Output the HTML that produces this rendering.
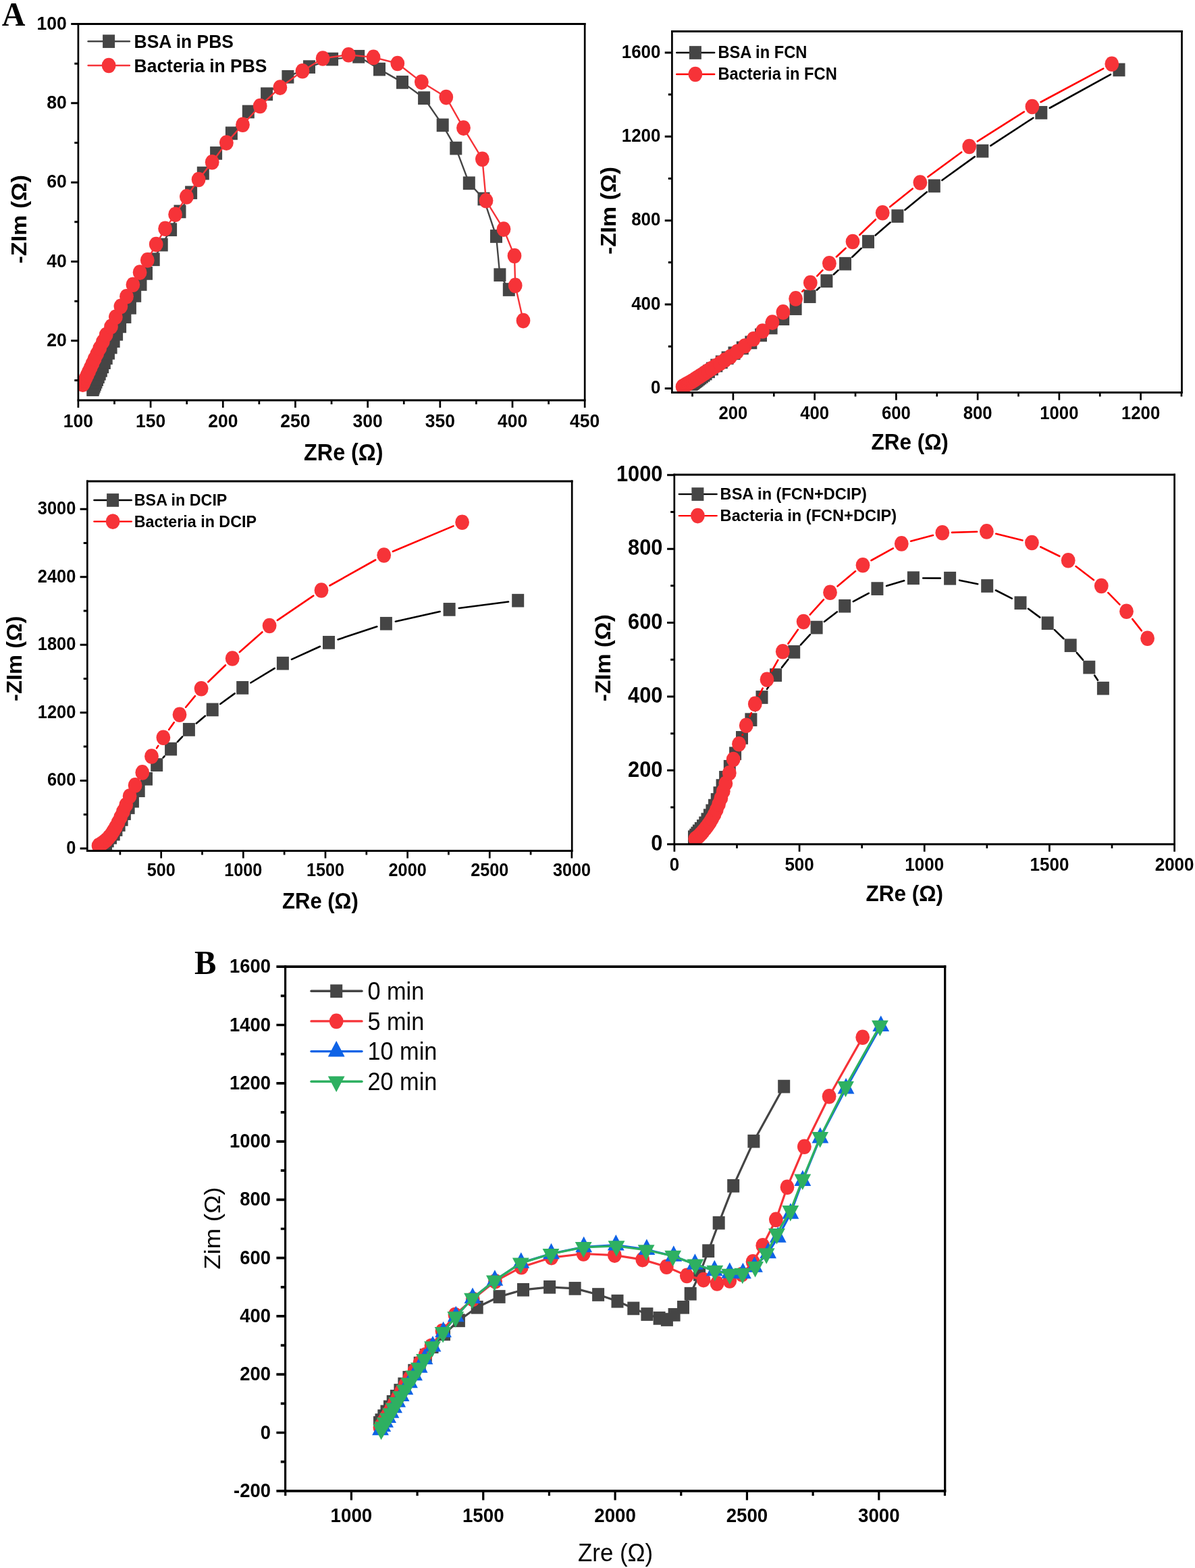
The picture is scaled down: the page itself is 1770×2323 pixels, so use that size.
<!DOCTYPE html>
<html lang="en">
<head>
<meta charset="utf-8">
<title>Nyquist plots</title>
<style>
html,body{margin:0;padding:0;background:#fff;}
body{width:1770px;height:2323px;overflow:hidden;}
svg{display:block;}
text{fill:#000;}
</style>
</head>
<body>
<svg width="1770" height="2323" viewBox="0 0 1770 2323" role="img" aria-label="Nyquist plots">
<rect x="0" y="0" width="1770" height="2323" fill="#fff"/>
<g>
<text transform="translate(115.9 633.2) scale(1 1.07)" font-family='"Liberation Sans", sans-serif' font-size="26.5" font-weight="bold" text-anchor="middle">100</text>
<text transform="translate(223.09 633.2) scale(1 1.07)" font-family='"Liberation Sans", sans-serif' font-size="26.5" font-weight="bold" text-anchor="middle">150</text>
<text transform="translate(330.27 633.2) scale(1 1.07)" font-family='"Liberation Sans", sans-serif' font-size="26.5" font-weight="bold" text-anchor="middle">200</text>
<text transform="translate(437.46 633.2) scale(1 1.07)" font-family='"Liberation Sans", sans-serif' font-size="26.5" font-weight="bold" text-anchor="middle">250</text>
<text transform="translate(544.64 633.2) scale(1 1.07)" font-family='"Liberation Sans", sans-serif' font-size="26.5" font-weight="bold" text-anchor="middle">300</text>
<text transform="translate(651.83 633.2) scale(1 1.07)" font-family='"Liberation Sans", sans-serif' font-size="26.5" font-weight="bold" text-anchor="middle">350</text>
<text transform="translate(759.01 633.2) scale(1 1.07)" font-family='"Liberation Sans", sans-serif' font-size="26.5" font-weight="bold" text-anchor="middle">400</text>
<text transform="translate(866.2 633.2) scale(1 1.07)" font-family='"Liberation Sans", sans-serif' font-size="26.5" font-weight="bold" text-anchor="middle">450</text>
<text transform="translate(98.8 513.1) scale(1 1.07)" font-family='"Liberation Sans", sans-serif' font-size="26.6" font-weight="bold" text-anchor="end">20</text>
<text transform="translate(98.8 395.78) scale(1 1.07)" font-family='"Liberation Sans", sans-serif' font-size="26.6" font-weight="bold" text-anchor="end">40</text>
<text transform="translate(98.8 278.45) scale(1 1.07)" font-family='"Liberation Sans", sans-serif' font-size="26.6" font-weight="bold" text-anchor="end">60</text>
<text transform="translate(98.8 161.12) scale(1 1.07)" font-family='"Liberation Sans", sans-serif' font-size="26.6" font-weight="bold" text-anchor="end">80</text>
<text transform="translate(98.8 43.8) scale(1 1.07)" font-family='"Liberation Sans", sans-serif' font-size="26.6" font-weight="bold" text-anchor="end">100</text>
<clipPath id="clip1"><rect x="115.9" y="35.5" width="750.3" height="557.4"/></clipPath>
<g clip-path="url(#clip1)">
<polyline points="137.4,577.2 137.57,576.82 138.6,574.46 139.75,571.85 141.02,568.93 142.44,565.7 144.01,562.11 145.76,558.12 147.7,553.68 149.83,548.74 152.18,543.24 154.8,537.14 157.71,530.35 160.95,522.82 164.58,514.46 168.62,505.18 173.11,494.86 178.1,483.4 185.4,469.2 192.9,455.8 200.2,437.9 208.5,421 217,404.9 227.7,384.3 239.7,362.6 253.1,340.2 266.5,313.4 283.1,285.3 300.8,256.6 320.1,226.9 342.9,197.4 367.8,165.5 395.1,139.3 426.4,113.8 458,99.1 492.1,87.6 531.2,83.8 562,102.6 596,121.9 628.1,145.2 655.7,185.4 675.3,219.6 694.8,271.3 716.5,294.6 735,350 740.4,407.2 753.8,429" fill="none" stroke="#454545" stroke-width="2.4" stroke-linejoin="round" stroke-linecap="round"/>
<g><rect x="128.4" y="567.35" width="18" height="19.7" fill="#454545"/><rect x="128.57" y="566.97" width="18" height="19.7" fill="#454545"/><rect x="129.6" y="564.61" width="18" height="19.7" fill="#454545"/><rect x="130.75" y="562" width="18" height="19.7" fill="#454545"/><rect x="132.02" y="559.08" width="18" height="19.7" fill="#454545"/><rect x="133.44" y="555.85" width="18" height="19.7" fill="#454545"/><rect x="135.01" y="552.26" width="18" height="19.7" fill="#454545"/><rect x="136.76" y="548.27" width="18" height="19.7" fill="#454545"/><rect x="138.7" y="543.83" width="18" height="19.7" fill="#454545"/><rect x="140.83" y="538.89" width="18" height="19.7" fill="#454545"/><rect x="143.18" y="533.39" width="18" height="19.7" fill="#454545"/><rect x="145.8" y="527.29" width="18" height="19.7" fill="#454545"/><rect x="148.71" y="520.5" width="18" height="19.7" fill="#454545"/><rect x="151.95" y="512.97" width="18" height="19.7" fill="#454545"/><rect x="155.58" y="504.61" width="18" height="19.7" fill="#454545"/><rect x="159.62" y="495.33" width="18" height="19.7" fill="#454545"/><rect x="164.11" y="485.01" width="18" height="19.7" fill="#454545"/><rect x="169.1" y="473.55" width="18" height="19.7" fill="#454545"/><rect x="176.4" y="459.35" width="18" height="19.7" fill="#454545"/><rect x="183.9" y="445.95" width="18" height="19.7" fill="#454545"/><rect x="191.2" y="428.05" width="18" height="19.7" fill="#454545"/><rect x="199.5" y="411.15" width="18" height="19.7" fill="#454545"/><rect x="208" y="395.05" width="18" height="19.7" fill="#454545"/><rect x="218.7" y="374.45" width="18" height="19.7" fill="#454545"/><rect x="230.7" y="352.75" width="18" height="19.7" fill="#454545"/><rect x="244.1" y="330.35" width="18" height="19.7" fill="#454545"/><rect x="257.5" y="303.55" width="18" height="19.7" fill="#454545"/><rect x="274.1" y="275.45" width="18" height="19.7" fill="#454545"/><rect x="291.8" y="246.75" width="18" height="19.7" fill="#454545"/><rect x="311.1" y="217.05" width="18" height="19.7" fill="#454545"/><rect x="333.9" y="187.55" width="18" height="19.7" fill="#454545"/><rect x="358.8" y="155.65" width="18" height="19.7" fill="#454545"/><rect x="386.1" y="129.45" width="18" height="19.7" fill="#454545"/><rect x="417.4" y="103.95" width="18" height="19.7" fill="#454545"/><rect x="449" y="89.25" width="18" height="19.7" fill="#454545"/><rect x="483.1" y="77.75" width="18" height="19.7" fill="#454545"/><rect x="522.2" y="73.95" width="18" height="19.7" fill="#454545"/><rect x="553" y="92.75" width="18" height="19.7" fill="#454545"/><rect x="587" y="112.05" width="18" height="19.7" fill="#454545"/><rect x="619.1" y="135.35" width="18" height="19.7" fill="#454545"/><rect x="646.7" y="175.55" width="18" height="19.7" fill="#454545"/><rect x="666.3" y="209.75" width="18" height="19.7" fill="#454545"/><rect x="685.8" y="261.45" width="18" height="19.7" fill="#454545"/><rect x="707.5" y="284.75" width="18" height="19.7" fill="#454545"/><rect x="726" y="340.15" width="18" height="19.7" fill="#454545"/><rect x="731.4" y="397.35" width="18" height="19.7" fill="#454545"/><rect x="744.8" y="419.15" width="18" height="19.7" fill="#454545"/></g>
<polyline points="122.7,569.6 123.7,567.44 125.38,563.81 127.26,559.76 129.33,555.27 131.63,550.27 134.17,544.71 137,538.54 140.15,531.68 143.76,524.12 147.78,515.72 152.24,506.38 157.2,496 164.5,483.9 171.4,469.7 178.9,453.9 187.5,439.2 196.9,421.8 207.1,403.6 218.3,385.4 231.2,362.1 244.6,338.8 259.6,317.7 276.4,291.4 294.1,266 314.2,240.3 335.4,211.6 359.5,184.8 385.2,157 414.9,129.6 448,105.3 478.1,86.5 516.2,81.2 553.1,84.9 588.8,94 624.4,121.6 660.8,144.1 686.5,189.6 714.4,235.7 720,297.3 746,339.6 762,379 763.2,422.9 775,475.1" fill="none" stroke="#f63338" stroke-width="2.4" stroke-linejoin="round" stroke-linecap="round"/>
<g><ellipse cx="122.7" cy="569.6" rx="10.4" ry="11.3" fill="#f63338"/><ellipse cx="123.7" cy="567.44" rx="10.4" ry="11.3" fill="#f63338"/><ellipse cx="125.38" cy="563.81" rx="10.4" ry="11.3" fill="#f63338"/><ellipse cx="127.26" cy="559.76" rx="10.4" ry="11.3" fill="#f63338"/><ellipse cx="129.33" cy="555.27" rx="10.4" ry="11.3" fill="#f63338"/><ellipse cx="131.63" cy="550.27" rx="10.4" ry="11.3" fill="#f63338"/><ellipse cx="134.17" cy="544.71" rx="10.4" ry="11.3" fill="#f63338"/><ellipse cx="137" cy="538.54" rx="10.4" ry="11.3" fill="#f63338"/><ellipse cx="140.15" cy="531.68" rx="10.4" ry="11.3" fill="#f63338"/><ellipse cx="143.76" cy="524.12" rx="10.4" ry="11.3" fill="#f63338"/><ellipse cx="147.78" cy="515.72" rx="10.4" ry="11.3" fill="#f63338"/><ellipse cx="152.24" cy="506.38" rx="10.4" ry="11.3" fill="#f63338"/><ellipse cx="157.2" cy="496" rx="10.4" ry="11.3" fill="#f63338"/><ellipse cx="164.5" cy="483.9" rx="10.4" ry="11.3" fill="#f63338"/><ellipse cx="171.4" cy="469.7" rx="10.4" ry="11.3" fill="#f63338"/><ellipse cx="178.9" cy="453.9" rx="10.4" ry="11.3" fill="#f63338"/><ellipse cx="187.5" cy="439.2" rx="10.4" ry="11.3" fill="#f63338"/><ellipse cx="196.9" cy="421.8" rx="10.4" ry="11.3" fill="#f63338"/><ellipse cx="207.1" cy="403.6" rx="10.4" ry="11.3" fill="#f63338"/><ellipse cx="218.3" cy="385.4" rx="10.4" ry="11.3" fill="#f63338"/><ellipse cx="231.2" cy="362.1" rx="10.4" ry="11.3" fill="#f63338"/><ellipse cx="244.6" cy="338.8" rx="10.4" ry="11.3" fill="#f63338"/><ellipse cx="259.6" cy="317.7" rx="10.4" ry="11.3" fill="#f63338"/><ellipse cx="276.4" cy="291.4" rx="10.4" ry="11.3" fill="#f63338"/><ellipse cx="294.1" cy="266" rx="10.4" ry="11.3" fill="#f63338"/><ellipse cx="314.2" cy="240.3" rx="10.4" ry="11.3" fill="#f63338"/><ellipse cx="335.4" cy="211.6" rx="10.4" ry="11.3" fill="#f63338"/><ellipse cx="359.5" cy="184.8" rx="10.4" ry="11.3" fill="#f63338"/><ellipse cx="385.2" cy="157" rx="10.4" ry="11.3" fill="#f63338"/><ellipse cx="414.9" cy="129.6" rx="10.4" ry="11.3" fill="#f63338"/><ellipse cx="448" cy="105.3" rx="10.4" ry="11.3" fill="#f63338"/><ellipse cx="478.1" cy="86.5" rx="10.4" ry="11.3" fill="#f63338"/><ellipse cx="516.2" cy="81.2" rx="10.4" ry="11.3" fill="#f63338"/><ellipse cx="553.1" cy="84.9" rx="10.4" ry="11.3" fill="#f63338"/><ellipse cx="588.8" cy="94" rx="10.4" ry="11.3" fill="#f63338"/><ellipse cx="624.4" cy="121.6" rx="10.4" ry="11.3" fill="#f63338"/><ellipse cx="660.8" cy="144.1" rx="10.4" ry="11.3" fill="#f63338"/><ellipse cx="686.5" cy="189.6" rx="10.4" ry="11.3" fill="#f63338"/><ellipse cx="714.4" cy="235.7" rx="10.4" ry="11.3" fill="#f63338"/><ellipse cx="720" cy="297.3" rx="10.4" ry="11.3" fill="#f63338"/><ellipse cx="746" cy="339.6" rx="10.4" ry="11.3" fill="#f63338"/><ellipse cx="762" cy="379" rx="10.4" ry="11.3" fill="#f63338"/><ellipse cx="763.2" cy="422.9" rx="10.4" ry="11.3" fill="#f63338"/><ellipse cx="775" cy="475.1" rx="10.4" ry="11.3" fill="#f63338"/></g>
</g>
<path d="M114.55 35.5 H867.55 M114.55 592.9 H867.55 M115.9 504.8 h-10.7 M115.9 387.48 h-10.7 M115.9 270.15 h-10.7 M115.9 152.82 h-10.7 M115.9 35.5 h-10.7 M115.9 563.46 h-5.6 M115.9 446.14 h-5.6 M115.9 328.81 h-5.6 M115.9 211.49 h-5.6 M115.9 94.16 h-5.6" stroke="#000" stroke-width="3" fill="none"/>
<path d="M115.9 34 V594.4 M866.2 34 V594.4 M115.9 592.9 v11.1 M223.09 592.9 v11.1 M330.27 592.9 v11.1 M437.46 592.9 v11.1 M544.64 592.9 v11.1 M651.83 592.9 v11.1 M759.01 592.9 v11.1 M866.2 592.9 v11.1 M169.49 592.9 v6 M276.68 592.9 v6 M383.86 592.9 v6 M491.05 592.9 v6 M598.24 592.9 v6 M705.42 592.9 v6 M812.61 592.9 v6" stroke="#000" stroke-width="2.7" fill="none"/>
<line x1="130.6" y1="61.2" x2="191.9" y2="61.2" stroke="#454545" stroke-width="2.4" stroke-linecap="round"/>
<rect x="152.1" y="51.35" width="18" height="19.7" fill="#454545"/>
<text transform="translate(198.6 71) scale(1 1.07)" font-family='"Liberation Sans", sans-serif' font-size="26.45" font-weight="bold" text-anchor="start">BSA in PBS</text>
<line x1="130.6" y1="97" x2="191.9" y2="97" stroke="#f63338" stroke-width="2.4" stroke-linecap="round"/>
<ellipse cx="161.1" cy="97" rx="10.4" ry="11.3" fill="#f63338"/>
<text transform="translate(198.6 106.8) scale(1 1.07)" font-family='"Liberation Sans", sans-serif' font-size="26.45" font-weight="bold" text-anchor="start">Bacteria in PBS</text>
<text transform="translate(508.8 681.7) scale(1 1.07)" font-family='"Liberation Sans", sans-serif' font-size="32.3" font-weight="bold" text-anchor="middle">ZRe (Ω)</text>
<text transform="translate(39.25 324.8) scale(1 1.07) rotate(-90)" font-family='"Liberation Sans", sans-serif' font-size="31.9" font-weight="bold" text-anchor="middle">-ZIm (Ω)</text>
</g>
<g>
<text transform="translate(1085.9 620.8) scale(1 1.07)" font-family='"Liberation Sans", sans-serif' font-size="25.7" font-weight="bold" text-anchor="middle">200</text>
<text transform="translate(1206.64 620.8) scale(1 1.07)" font-family='"Liberation Sans", sans-serif' font-size="25.7" font-weight="bold" text-anchor="middle">400</text>
<text transform="translate(1327.38 620.8) scale(1 1.07)" font-family='"Liberation Sans", sans-serif' font-size="25.7" font-weight="bold" text-anchor="middle">600</text>
<text transform="translate(1448.12 620.8) scale(1 1.07)" font-family='"Liberation Sans", sans-serif' font-size="25.7" font-weight="bold" text-anchor="middle">800</text>
<text transform="translate(1568.86 620.8) scale(1 1.07)" font-family='"Liberation Sans", sans-serif' font-size="25.7" font-weight="bold" text-anchor="middle">1000</text>
<text transform="translate(1689.6 620.8) scale(1 1.07)" font-family='"Liberation Sans", sans-serif' font-size="25.7" font-weight="bold" text-anchor="middle">1200</text>
<text transform="translate(978.4 583) scale(1 1.07)" font-family='"Liberation Sans", sans-serif' font-size="25.9" font-weight="bold" text-anchor="end">0</text>
<text transform="translate(978.4 458.62) scale(1 1.07)" font-family='"Liberation Sans", sans-serif' font-size="25.9" font-weight="bold" text-anchor="end">400</text>
<text transform="translate(978.4 334.25) scale(1 1.07)" font-family='"Liberation Sans", sans-serif' font-size="25.9" font-weight="bold" text-anchor="end">800</text>
<text transform="translate(978.4 209.87) scale(1 1.07)" font-family='"Liberation Sans", sans-serif' font-size="25.9" font-weight="bold" text-anchor="end">1200</text>
<text transform="translate(978.4 85.5) scale(1 1.07)" font-family='"Liberation Sans", sans-serif' font-size="25.9" font-weight="bold" text-anchor="end">1600</text>
<clipPath id="clip2"><rect x="995.4" y="46.5" width="755.1" height="535.1"/></clipPath>
<g clip-path="url(#clip2)">
<path d="M1210 429.5 L1213.9 425.9 M1234.9 406.5 L1241.5 400.4 M1262.31 380.79 L1275.69 367.91 M1296.77 348.59 L1318.63 329.51 M1340.45 311.02 L1372.75 284.48 M1395.39 267.02 L1443.71 232.08 M1467.27 215.88 L1530.33 174.72 M1554.82 160 L1644.98 110.3" fill="none" stroke="#000" stroke-width="2.6" stroke-linecap="round"/>
<g><rect x="1015.5" y="559.15" width="18" height="19.7" fill="#454545"/><rect x="1016.64" y="558.33" width="18" height="19.7" fill="#454545"/><rect x="1017.85" y="557.45" width="18" height="19.7" fill="#454545"/><rect x="1019.18" y="556.49" width="18" height="19.7" fill="#454545"/><rect x="1020.65" y="555.43" width="18" height="19.7" fill="#454545"/><rect x="1022.29" y="554.24" width="18" height="19.7" fill="#454545"/><rect x="1024.09" y="552.9" width="18" height="19.7" fill="#454545"/><rect x="1026.09" y="551.42" width="18" height="19.7" fill="#454545"/><rect x="1028.32" y="549.77" width="18" height="19.7" fill="#454545"/><rect x="1030.8" y="547.94" width="18" height="19.7" fill="#454545"/><rect x="1033.55" y="545.91" width="18" height="19.7" fill="#454545"/><rect x="1036.6" y="543.65" width="18" height="19.7" fill="#454545"/><rect x="1040.9" y="540.45" width="18" height="19.7" fill="#454545"/><rect x="1045.9" y="536.55" width="18" height="19.7" fill="#454545"/><rect x="1052.3" y="531.65" width="18" height="19.7" fill="#454545"/><rect x="1059.8" y="526.55" width="18" height="19.7" fill="#454545"/><rect x="1068.6" y="520.45" width="18" height="19.7" fill="#454545"/><rect x="1078.5" y="513.45" width="18" height="19.7" fill="#454545"/><rect x="1090.8" y="505.65" width="18" height="19.7" fill="#454545"/><rect x="1103.3" y="497.55" width="18" height="19.7" fill="#454545"/><rect x="1118" y="486.55" width="18" height="19.7" fill="#454545"/><rect x="1133.6" y="475.65" width="18" height="19.7" fill="#454545"/><rect x="1151.2" y="462.35" width="18" height="19.7" fill="#454545"/><rect x="1169.6" y="447.25" width="18" height="19.7" fill="#454545"/><rect x="1190.5" y="429.35" width="18" height="19.7" fill="#454545"/><rect x="1215.4" y="406.35" width="18" height="19.7" fill="#454545"/><rect x="1243" y="380.85" width="18" height="19.7" fill="#454545"/><rect x="1277" y="348.15" width="18" height="19.7" fill="#454545"/><rect x="1320.4" y="310.25" width="18" height="19.7" fill="#454545"/><rect x="1374.8" y="265.55" width="18" height="19.7" fill="#454545"/><rect x="1446.3" y="213.85" width="18" height="19.7" fill="#454545"/><rect x="1533.3" y="157.05" width="18" height="19.7" fill="#454545"/><rect x="1648.5" y="93.55" width="18" height="19.7" fill="#454545"/></g>
<path d="M1188.35 431.94 L1190.55 429.56 M1210.27 408.85 L1218.43 400.45 M1238.87 380.46 L1252.53 367.74 M1273.28 348.06 L1296.92 325.24 M1318.34 306.34 L1351.76 279.46 M1374.42 262.03 L1424.18 225.47 M1447.78 209.35 L1516.82 165.65 M1541.5 151.24 L1634.2 101.56" fill="none" stroke="#f00" stroke-width="2.6" stroke-linecap="round"/>
<g><ellipse cx="1011" cy="573" rx="10.4" ry="11.3" fill="#f63338"/><ellipse cx="1011.68" cy="572.6" rx="10.4" ry="11.3" fill="#f63338"/><ellipse cx="1013.24" cy="571.7" rx="10.4" ry="11.3" fill="#f63338"/><ellipse cx="1014.79" cy="570.79" rx="10.4" ry="11.3" fill="#f63338"/><ellipse cx="1016.35" cy="569.88" rx="10.4" ry="11.3" fill="#f63338"/><ellipse cx="1018.04" cy="568.9" rx="10.4" ry="11.3" fill="#f63338"/><ellipse cx="1019.91" cy="567.8" rx="10.4" ry="11.3" fill="#f63338"/><ellipse cx="1022" cy="566.59" rx="10.4" ry="11.3" fill="#f63338"/><ellipse cx="1024.32" cy="565.24" rx="10.4" ry="11.3" fill="#f63338"/><ellipse cx="1026.87" cy="563.7" rx="10.4" ry="11.3" fill="#f63338"/><ellipse cx="1029.65" cy="561.89" rx="10.4" ry="11.3" fill="#f63338"/><ellipse cx="1032.73" cy="559.88" rx="10.4" ry="11.3" fill="#f63338"/><ellipse cx="1036.16" cy="557.65" rx="10.4" ry="11.3" fill="#f63338"/><ellipse cx="1039.97" cy="555.18" rx="10.4" ry="11.3" fill="#f63338"/><ellipse cx="1044.2" cy="552.42" rx="10.4" ry="11.3" fill="#f63338"/><ellipse cx="1048.9" cy="549.36" rx="10.4" ry="11.3" fill="#f63338"/><ellipse cx="1054.13" cy="545.97" rx="10.4" ry="11.3" fill="#f63338"/><ellipse cx="1059.94" cy="542.2" rx="10.4" ry="11.3" fill="#f63338"/><ellipse cx="1066.47" cy="538.14" rx="10.4" ry="11.3" fill="#f63338"/><ellipse cx="1073.73" cy="533.62" rx="10.4" ry="11.3" fill="#f63338"/><ellipse cx="1081.8" cy="528.6" rx="10.4" ry="11.3" fill="#f63338"/><ellipse cx="1092" cy="521.1" rx="10.4" ry="11.3" fill="#f63338"/><ellipse cx="1103.3" cy="512.5" rx="10.4" ry="11.3" fill="#f63338"/><ellipse cx="1116.1" cy="502.3" rx="10.4" ry="11.3" fill="#f63338"/><ellipse cx="1129.5" cy="490.5" rx="10.4" ry="11.3" fill="#f63338"/><ellipse cx="1144" cy="477.6" rx="10.4" ry="11.3" fill="#f63338"/><ellipse cx="1159.9" cy="462.4" rx="10.4" ry="11.3" fill="#f63338"/><ellipse cx="1178.6" cy="442.4" rx="10.4" ry="11.3" fill="#f63338"/><ellipse cx="1200.3" cy="419.1" rx="10.4" ry="11.3" fill="#f63338"/><ellipse cx="1228.4" cy="390.2" rx="10.4" ry="11.3" fill="#f63338"/><ellipse cx="1263" cy="358" rx="10.4" ry="11.3" fill="#f63338"/><ellipse cx="1307.2" cy="315.3" rx="10.4" ry="11.3" fill="#f63338"/><ellipse cx="1362.9" cy="270.5" rx="10.4" ry="11.3" fill="#f63338"/><ellipse cx="1435.7" cy="217" rx="10.4" ry="11.3" fill="#f63338"/><ellipse cx="1528.9" cy="158" rx="10.4" ry="11.3" fill="#f63338"/><ellipse cx="1646.8" cy="94.8" rx="10.4" ry="11.3" fill="#f63338"/></g>
</g>
<path d="M994.05 46.5 H1751.85 M994.05 581.6 H1751.85 M995.4 575.4 h-10.7 M995.4 451.02 h-10.7 M995.4 326.65 h-10.7 M995.4 202.27 h-10.7 M995.4 77.9 h-10.7 M995.4 513.21 h-5.6 M995.4 388.84 h-5.6 M995.4 264.46 h-5.6 M995.4 140.09 h-5.6" stroke="#000" stroke-width="3" fill="none"/>
<path d="M995.4 45 V583.1 M1750.5 45 V583.1 M1085.9 581.6 v11.1 M1206.64 581.6 v11.1 M1327.38 581.6 v11.1 M1448.12 581.6 v11.1 M1568.86 581.6 v11.1 M1689.6 581.6 v11.1 M1025.53 581.6 v6 M1146.27 581.6 v6 M1267.01 581.6 v6 M1387.75 581.6 v6 M1508.49 581.6 v6 M1629.23 581.6 v6 M1749.97 581.6 v6" stroke="#000" stroke-width="2.7" fill="none"/>
<line x1="1002.2" y1="78" x2="1058.2" y2="78" stroke="#000" stroke-width="2.4" stroke-linecap="round"/>
<rect x="1020.9" y="68.15" width="18" height="19.7" fill="#454545"/>
<text transform="translate(1063.4 86.2) scale(1 1.05)" font-family='"Liberation Sans", sans-serif' font-size="23.7" font-weight="bold" text-anchor="start">BSA in FCN</text>
<line x1="1002.2" y1="110" x2="1058.2" y2="110" stroke="#f00" stroke-width="2.4" stroke-linecap="round"/>
<ellipse cx="1029.9" cy="110" rx="10.4" ry="11.3" fill="#f63338"/>
<text transform="translate(1063.4 118.2) scale(1 1.05)" font-family='"Liberation Sans", sans-serif' font-size="23.7" font-weight="bold" text-anchor="start">Bacteria in FCN</text>
<text transform="translate(1347.7 665.5) scale(1 1.07)" font-family='"Liberation Sans", sans-serif' font-size="31.45" font-weight="bold" text-anchor="middle">ZRe (Ω)</text>
<text transform="translate(911.7 312.1) scale(1 1.07) rotate(-90)" font-family='"Liberation Sans", sans-serif' font-size="31.5" font-weight="bold" text-anchor="middle">-ZIm (Ω)</text>
</g>
<g>
<text transform="translate(238.7 1297.9) scale(1 1.07)" font-family='"Liberation Sans", sans-serif' font-size="25.2" font-weight="bold" text-anchor="middle">500</text>
<text transform="translate(360.34 1297.9) scale(1 1.07)" font-family='"Liberation Sans", sans-serif' font-size="25.2" font-weight="bold" text-anchor="middle">1000</text>
<text transform="translate(481.98 1297.9) scale(1 1.07)" font-family='"Liberation Sans", sans-serif' font-size="25.2" font-weight="bold" text-anchor="middle">1500</text>
<text transform="translate(603.62 1297.9) scale(1 1.07)" font-family='"Liberation Sans", sans-serif' font-size="25.2" font-weight="bold" text-anchor="middle">2000</text>
<text transform="translate(725.26 1297.9) scale(1 1.07)" font-family='"Liberation Sans", sans-serif' font-size="25.2" font-weight="bold" text-anchor="middle">2500</text>
<text transform="translate(846.9 1297.9) scale(1 1.07)" font-family='"Liberation Sans", sans-serif' font-size="25.2" font-weight="bold" text-anchor="middle">3000</text>
<text transform="translate(112.3 1264.8) scale(1 1.07)" font-family='"Liberation Sans", sans-serif' font-size="25.4" font-weight="bold" text-anchor="end">0</text>
<text transform="translate(112.3 1164.28) scale(1 1.07)" font-family='"Liberation Sans", sans-serif' font-size="25.4" font-weight="bold" text-anchor="end">600</text>
<text transform="translate(112.3 1063.76) scale(1 1.07)" font-family='"Liberation Sans", sans-serif' font-size="25.4" font-weight="bold" text-anchor="end">1200</text>
<text transform="translate(112.3 963.24) scale(1 1.07)" font-family='"Liberation Sans", sans-serif' font-size="25.4" font-weight="bold" text-anchor="end">1800</text>
<text transform="translate(112.3 862.72) scale(1 1.07)" font-family='"Liberation Sans", sans-serif' font-size="25.4" font-weight="bold" text-anchor="end">2400</text>
<text transform="translate(112.3 762.2) scale(1 1.07)" font-family='"Liberation Sans", sans-serif' font-size="25.4" font-weight="bold" text-anchor="end">3000</text>
<clipPath id="clip3"><rect x="129.3" y="712.9" width="717.9" height="547.5"/></clipPath>
<g clip-path="url(#clip3)">
<path d="M241.7 1122.41 L243.6 1120.29 M262.86 1099.15 L270.14 1091.35 M290.81 1071.65 L303.79 1060.65 M326.25 1042.97 L347.65 1027.33 M371.43 1011.49 L406.67 990.11 M431.93 976.81 L473.97 957.79 M500.58 947.41 L558.32 928.29 M585.86 920.69 L651.64 906.01 M679.78 901.06 L753.02 891.54" fill="none" stroke="#000" stroke-width="2.6" stroke-linecap="round"/>
<g><rect x="148.1" y="1239.95" width="18" height="19.7" fill="#454545"/><rect x="150.69" y="1235.66" width="18" height="19.7" fill="#454545"/><rect x="155" y="1230.95" width="18" height="19.7" fill="#454545"/><rect x="159.69" y="1225.79" width="18" height="19.7" fill="#454545"/><rect x="163.39" y="1219.19" width="18" height="19.7" fill="#454545"/><rect x="167.61" y="1212.12" width="18" height="19.7" fill="#454545"/><rect x="171.6" y="1204.1" width="18" height="19.7" fill="#454545"/><rect x="175.85" y="1195.35" width="18" height="19.7" fill="#454545"/><rect x="181.61" y="1186.48" width="18" height="19.7" fill="#454545"/><rect x="187.9" y="1176.85" width="18" height="19.7" fill="#454545"/><rect x="196.7" y="1161.35" width="18" height="19.7" fill="#454545"/><rect x="208" y="1143.95" width="18" height="19.7" fill="#454545"/><rect x="223.2" y="1123.25" width="18" height="19.7" fill="#454545"/><rect x="244.1" y="1099.75" width="18" height="19.7" fill="#454545"/><rect x="270.9" y="1071.05" width="18" height="19.7" fill="#454545"/><rect x="305.7" y="1041.55" width="18" height="19.7" fill="#454545"/><rect x="350.2" y="1009.05" width="18" height="19.7" fill="#454545"/><rect x="409.9" y="972.85" width="18" height="19.7" fill="#454545"/><rect x="478" y="942.05" width="18" height="19.7" fill="#454545"/><rect x="562.9" y="913.95" width="18" height="19.7" fill="#454545"/><rect x="656.6" y="893.05" width="18" height="19.7" fill="#454545"/><rect x="758.2" y="879.85" width="18" height="19.7" fill="#454545"/></g>
<path d="M232.09 1108.38 L234.31 1104.82 M250.17 1081.03 L257.73 1070.37 M275.16 1047.72 L288.94 1031.18 M308.37 1010.25 L333.93 985.45 M354.92 966.03 L388.38 936.47 M410.91 918.94 L464.19 882.56 M488.47 867.5 L556.23 829.5 M581.88 816.96 L671.42 779.34" fill="none" stroke="#f00" stroke-width="2.6" stroke-linecap="round"/>
<g><ellipse cx="146" cy="1252.9" rx="10.4" ry="11.3" fill="#f63338"/><ellipse cx="147.85" cy="1251.75" rx="10.4" ry="11.3" fill="#f63338"/><ellipse cx="150.95" cy="1249.82" rx="10.4" ry="11.3" fill="#f63338"/><ellipse cx="154.17" cy="1247.33" rx="10.4" ry="11.3" fill="#f63338"/><ellipse cx="157.71" cy="1244.53" rx="10.4" ry="11.3" fill="#f63338"/><ellipse cx="160.99" cy="1240.73" rx="10.4" ry="11.3" fill="#f63338"/><ellipse cx="164.57" cy="1236.45" rx="10.4" ry="11.3" fill="#f63338"/><ellipse cx="167.87" cy="1231.2" rx="10.4" ry="11.3" fill="#f63338"/><ellipse cx="171.48" cy="1225.34" rx="10.4" ry="11.3" fill="#f63338"/><ellipse cx="174.93" cy="1218.5" rx="10.4" ry="11.3" fill="#f63338"/><ellipse cx="178.56" cy="1210.81" rx="10.4" ry="11.3" fill="#f63338"/><ellipse cx="182.38" cy="1202.17" rx="10.4" ry="11.3" fill="#f63338"/><ellipse cx="186.7" cy="1192.6" rx="10.4" ry="11.3" fill="#f63338"/><ellipse cx="192.1" cy="1179.5" rx="10.4" ry="11.3" fill="#f63338"/><ellipse cx="200.1" cy="1163.4" rx="10.4" ry="11.3" fill="#f63338"/><ellipse cx="210.8" cy="1144.4" rx="10.4" ry="11.3" fill="#f63338"/><ellipse cx="224.5" cy="1120.5" rx="10.4" ry="11.3" fill="#f63338"/><ellipse cx="241.9" cy="1092.7" rx="10.4" ry="11.3" fill="#f63338"/><ellipse cx="266" cy="1058.7" rx="10.4" ry="11.3" fill="#f63338"/><ellipse cx="298.1" cy="1020.2" rx="10.4" ry="11.3" fill="#f63338"/><ellipse cx="344.2" cy="975.5" rx="10.4" ry="11.3" fill="#f63338"/><ellipse cx="399.1" cy="927" rx="10.4" ry="11.3" fill="#f63338"/><ellipse cx="476" cy="874.5" rx="10.4" ry="11.3" fill="#f63338"/><ellipse cx="568.7" cy="822.5" rx="10.4" ry="11.3" fill="#f63338"/><ellipse cx="684.6" cy="773.8" rx="10.4" ry="11.3" fill="#f63338"/></g>
</g>
<path d="M127.95 712.9 H848.55 M127.95 1260.4 H848.55 M129.3 1256.9 h-10.7 M129.3 1156.38 h-10.7 M129.3 1055.86 h-10.7 M129.3 955.34 h-10.7 M129.3 854.82 h-10.7 M129.3 754.3 h-10.7 M129.3 1206.64 h-5.6 M129.3 1106.12 h-5.6 M129.3 1005.6 h-5.6 M129.3 905.08 h-5.6 M129.3 804.56 h-5.6" stroke="#000" stroke-width="3" fill="none"/>
<path d="M129.3 711.4 V1261.9 M847.2 711.4 V1261.9 M238.7 1260.4 v11.1 M360.34 1260.4 v11.1 M481.98 1260.4 v11.1 M603.62 1260.4 v11.1 M725.26 1260.4 v11.1 M846.9 1260.4 v11.1 M177.88 1260.4 v6 M299.52 1260.4 v6 M421.16 1260.4 v6 M542.8 1260.4 v6 M664.44 1260.4 v6 M786.08 1260.4 v6" stroke="#000" stroke-width="2.7" fill="none"/>
<line x1="139.4" y1="741" x2="194.8" y2="741" stroke="#000" stroke-width="2.4" stroke-linecap="round"/>
<rect x="158.1" y="731.15" width="18" height="19.7" fill="#454545"/>
<text transform="translate(198.8 749.35) scale(1 1.06)" font-family='"Liberation Sans", sans-serif' font-size="23.3" font-weight="bold" text-anchor="start">BSA in DCIP</text>
<line x1="139.4" y1="772.6" x2="194.8" y2="772.6" stroke="#f00" stroke-width="2.4" stroke-linecap="round"/>
<ellipse cx="167.1" cy="772.6" rx="10.4" ry="11.3" fill="#f63338"/>
<text transform="translate(198.8 780.95) scale(1 1.06)" font-family='"Liberation Sans", sans-serif' font-size="23.3" font-weight="bold" text-anchor="start">Bacteria in DCIP</text>
<text transform="translate(474.4 1346.1) scale(1 1.07)" font-family='"Liberation Sans", sans-serif' font-size="31" font-weight="bold" text-anchor="middle">ZRe (Ω)</text>
<text transform="translate(31.9 975.8) scale(1 1.07) rotate(-90)" font-family='"Liberation Sans", sans-serif' font-size="30.6" font-weight="bold" text-anchor="middle">-ZIm (Ω)</text>
</g>
<g>
<text transform="translate(998.9 1289.8) scale(1 1.07)" font-family='"Liberation Sans", sans-serif' font-size="26" font-weight="bold" text-anchor="middle">0</text>
<text transform="translate(1184.08 1289.8) scale(1 1.07)" font-family='"Liberation Sans", sans-serif' font-size="26" font-weight="bold" text-anchor="middle">500</text>
<text transform="translate(1369.25 1289.8) scale(1 1.07)" font-family='"Liberation Sans", sans-serif' font-size="26" font-weight="bold" text-anchor="middle">1000</text>
<text transform="translate(1554.42 1289.8) scale(1 1.07)" font-family='"Liberation Sans", sans-serif' font-size="26" font-weight="bold" text-anchor="middle">1500</text>
<text transform="translate(1739.6 1289.8) scale(1 1.07)" font-family='"Liberation Sans", sans-serif' font-size="26" font-weight="bold" text-anchor="middle">2000</text>
<text transform="translate(981.4 1259.95) scale(1 1.07)" font-family='"Liberation Sans", sans-serif' font-size="30.8" font-weight="bold" text-anchor="end">0</text>
<text transform="translate(981.4 1150.57) scale(1 1.07)" font-family='"Liberation Sans", sans-serif' font-size="30.8" font-weight="bold" text-anchor="end">200</text>
<text transform="translate(981.4 1041.19) scale(1 1.07)" font-family='"Liberation Sans", sans-serif' font-size="30.8" font-weight="bold" text-anchor="end">400</text>
<text transform="translate(981.4 931.81) scale(1 1.07)" font-family='"Liberation Sans", sans-serif' font-size="30.8" font-weight="bold" text-anchor="end">600</text>
<text transform="translate(981.4 822.43) scale(1 1.07)" font-family='"Liberation Sans", sans-serif' font-size="30.8" font-weight="bold" text-anchor="end">800</text>
<text transform="translate(981.4 713.05) scale(1 1.07)" font-family='"Liberation Sans", sans-serif' font-size="30.8" font-weight="bold" text-anchor="end">1000</text>
<clipPath id="clip4"><rect x="998.8" y="703.3" width="740.8" height="547.4"/></clipPath>
<g clip-path="url(#clip4)">
<path d="M1105.41 1080.12 L1105.99 1078.98 M1118.64 1053.33 L1122.26 1045.87 M1136.09 1020.88 L1141.51 1012.22 M1157.97 988.88 L1167.33 977.02 M1185.9 955.29 L1199.9 940.11 M1220.96 920.92 L1239.84 906.48 M1263.82 891.07 L1286.78 878.83 M1313.11 868.05 L1339.19 860.35 M1367.2 856.43 L1392.8 856.67 M1421.11 859.65 L1448.19 865.15 M1474.93 874.51 L1498.77 886.69 M1522.96 901.75 L1540.24 914.65 M1561.96 933.16 L1575.44 946.24 M1594.97 967.09 L1604.03 977.71 M1621.2 1000.52 L1626 1007.78" fill="none" stroke="#000" stroke-width="2.6" stroke-linecap="round"/>
<g><rect x="1019" y="1230.65" width="18" height="19.7" fill="#454545"/><rect x="1019.23" y="1230.34" width="18" height="19.7" fill="#454545"/><rect x="1021.22" y="1227.69" width="18" height="19.7" fill="#454545"/><rect x="1023.42" y="1224.76" width="18" height="19.7" fill="#454545"/><rect x="1025.92" y="1221.54" width="18" height="19.7" fill="#454545"/><rect x="1028.81" y="1218.05" width="18" height="19.7" fill="#454545"/><rect x="1032.03" y="1214.17" width="18" height="19.7" fill="#454545"/><rect x="1035.25" y="1209.61" width="18" height="19.7" fill="#454545"/><rect x="1038.48" y="1204.3" width="18" height="19.7" fill="#454545"/><rect x="1041.93" y="1198.32" width="18" height="19.7" fill="#454545"/><rect x="1045.41" y="1191.47" width="18" height="19.7" fill="#454545"/><rect x="1049.05" y="1183.76" width="18" height="19.7" fill="#454545"/><rect x="1052.76" y="1175.05" width="18" height="19.7" fill="#454545"/><rect x="1056.54" y="1165.22" width="18" height="19.7" fill="#454545"/><rect x="1060.58" y="1154.24" width="18" height="19.7" fill="#454545"/><rect x="1065.1" y="1142.05" width="18" height="19.7" fill="#454545"/><rect x="1071.8" y="1125.95" width="18" height="19.7" fill="#454545"/><rect x="1080.1" y="1106.45" width="18" height="19.7" fill="#454545"/><rect x="1090" y="1083.05" width="18" height="19.7" fill="#454545"/><rect x="1103.4" y="1056.35" width="18" height="19.7" fill="#454545"/><rect x="1119.5" y="1023.15" width="18" height="19.7" fill="#454545"/><rect x="1140.1" y="990.25" width="18" height="19.7" fill="#454545"/><rect x="1167.2" y="955.95" width="18" height="19.7" fill="#454545"/><rect x="1200.6" y="919.75" width="18" height="19.7" fill="#454545"/><rect x="1242.2" y="887.95" width="18" height="19.7" fill="#454545"/><rect x="1290.4" y="862.25" width="18" height="19.7" fill="#454545"/><rect x="1343.9" y="846.45" width="18" height="19.7" fill="#454545"/><rect x="1398.1" y="846.95" width="18" height="19.7" fill="#454545"/><rect x="1453.2" y="858.15" width="18" height="19.7" fill="#454545"/><rect x="1502.5" y="883.35" width="18" height="19.7" fill="#454545"/><rect x="1542.7" y="913.35" width="18" height="19.7" fill="#454545"/><rect x="1576.7" y="946.35" width="18" height="19.7" fill="#454545"/><rect x="1604.3" y="978.75" width="18" height="19.7" fill="#454545"/><rect x="1624.9" y="1009.85" width="18" height="19.7" fill="#454545"/></g>
<path d="M1099.67 1088.97 L1100.03 1088.03 M1110.65 1061.48 L1112.85 1056.12 M1124.6 1030.06 L1129.7 1019.64 M1143 994.33 L1152.3 977.77 M1167.48 953.57 L1181.92 932.83 M1199.71 910.51 L1219.89 888.29 M1240.48 868.53 L1267.02 846.37 M1290.5 830.26 L1322.8 812.34 M1349.12 801.72 L1381.98 792.98 M1410.09 788.89 L1447.11 787.81 M1475.28 790.84 L1514.52 800.56 M1541.25 810.28 L1569.35 824.02 M1593.54 839.01 L1619.96 859.29 M1641.33 878.19 L1658.47 895.61 M1677.29 917.08 L1690.81 934.42" fill="none" stroke="#f00" stroke-width="2.6" stroke-linecap="round"/>
<g><ellipse cx="1029.9" cy="1243" rx="10.4" ry="11.3" fill="#f63338"/><ellipse cx="1029.95" cy="1242.96" rx="10.4" ry="11.3" fill="#f63338"/><ellipse cx="1032.12" cy="1241.29" rx="10.4" ry="11.3" fill="#f63338"/><ellipse cx="1034.42" cy="1239.28" rx="10.4" ry="11.3" fill="#f63338"/><ellipse cx="1036.81" cy="1236.89" rx="10.4" ry="11.3" fill="#f63338"/><ellipse cx="1039.41" cy="1234.16" rx="10.4" ry="11.3" fill="#f63338"/><ellipse cx="1042.07" cy="1230.94" rx="10.4" ry="11.3" fill="#f63338"/><ellipse cx="1045.03" cy="1227.35" rx="10.4" ry="11.3" fill="#f63338"/><ellipse cx="1048.06" cy="1223.17" rx="10.4" ry="11.3" fill="#f63338"/><ellipse cx="1051.39" cy="1218.49" rx="10.4" ry="11.3" fill="#f63338"/><ellipse cx="1054.67" cy="1213.03" rx="10.4" ry="11.3" fill="#f63338"/><ellipse cx="1058.07" cy="1206.82" rx="10.4" ry="11.3" fill="#f63338"/><ellipse cx="1061.3" cy="1199.64" rx="10.4" ry="11.3" fill="#f63338"/><ellipse cx="1064.55" cy="1191.52" rx="10.4" ry="11.3" fill="#f63338"/><ellipse cx="1067.89" cy="1182.4" rx="10.4" ry="11.3" fill="#f63338"/><ellipse cx="1071.27" cy="1172.14" rx="10.4" ry="11.3" fill="#f63338"/><ellipse cx="1074.9" cy="1160.7" rx="10.4" ry="11.3" fill="#f63338"/><ellipse cx="1080.3" cy="1145.2" rx="10.4" ry="11.3" fill="#f63338"/><ellipse cx="1086.2" cy="1125.1" rx="10.4" ry="11.3" fill="#f63338"/><ellipse cx="1094.5" cy="1102.3" rx="10.4" ry="11.3" fill="#f63338"/><ellipse cx="1105.2" cy="1074.7" rx="10.4" ry="11.3" fill="#f63338"/><ellipse cx="1118.3" cy="1042.9" rx="10.4" ry="11.3" fill="#f63338"/><ellipse cx="1136" cy="1006.8" rx="10.4" ry="11.3" fill="#f63338"/><ellipse cx="1159.3" cy="965.3" rx="10.4" ry="11.3" fill="#f63338"/><ellipse cx="1190.1" cy="921.1" rx="10.4" ry="11.3" fill="#f63338"/><ellipse cx="1229.5" cy="877.7" rx="10.4" ry="11.3" fill="#f63338"/><ellipse cx="1278" cy="837.2" rx="10.4" ry="11.3" fill="#f63338"/><ellipse cx="1335.3" cy="805.4" rx="10.4" ry="11.3" fill="#f63338"/><ellipse cx="1395.8" cy="789.3" rx="10.4" ry="11.3" fill="#f63338"/><ellipse cx="1461.4" cy="787.4" rx="10.4" ry="11.3" fill="#f63338"/><ellipse cx="1528.4" cy="804" rx="10.4" ry="11.3" fill="#f63338"/><ellipse cx="1582.2" cy="830.3" rx="10.4" ry="11.3" fill="#f63338"/><ellipse cx="1631.3" cy="868" rx="10.4" ry="11.3" fill="#f63338"/><ellipse cx="1668.5" cy="905.8" rx="10.4" ry="11.3" fill="#f63338"/><ellipse cx="1699.6" cy="945.7" rx="10.4" ry="11.3" fill="#f63338"/></g>
</g>
<path d="M997.45 703.3 H1740.95 M997.45 1250.7 H1740.95 M998.8 1250.7 h-10.7 M998.8 1141.32 h-10.7 M998.8 1031.94 h-10.7 M998.8 922.56 h-10.7 M998.8 813.18 h-10.7 M998.8 703.8 h-10.7 M998.8 1196.01 h-5.6 M998.8 1086.63 h-5.6 M998.8 977.25 h-5.6 M998.8 867.87 h-5.6 M998.8 758.49 h-5.6" stroke="#000" stroke-width="3" fill="none"/>
<path d="M998.8 701.8 V1252.2 M1739.6 701.8 V1252.2 M998.9 1250.7 v11.1 M1184.08 1250.7 v11.1 M1369.25 1250.7 v11.1 M1554.42 1250.7 v11.1 M1739.6 1250.7 v11.1 M1091.49 1250.7 v6 M1276.66 1250.7 v6 M1461.84 1250.7 v6 M1647.01 1250.7 v6" stroke="#000" stroke-width="2.7" fill="none"/>
<line x1="1005.8" y1="732.1" x2="1061.7" y2="732.1" stroke="#000" stroke-width="2.4" stroke-linecap="round"/>
<rect x="1024.4" y="722.25" width="18" height="19.7" fill="#454545"/>
<text transform="translate(1066.6 740) scale(1 1.05)" font-family='"Liberation Sans", sans-serif' font-size="23.6" font-weight="bold" text-anchor="start">BSA in (FCN+DCIP)</text>
<line x1="1005.8" y1="764.1" x2="1061.7" y2="764.1" stroke="#f00" stroke-width="2.4" stroke-linecap="round"/>
<ellipse cx="1033.4" cy="764.1" rx="10.4" ry="11.3" fill="#f63338"/>
<text transform="translate(1066.6 772) scale(1 1.05)" font-family='"Liberation Sans", sans-serif' font-size="23.6" font-weight="bold" text-anchor="start">Bacteria in (FCN+DCIP)</text>
<text transform="translate(1339.8 1335.4) scale(1 1.07)" font-family='"Liberation Sans", sans-serif' font-size="31.5" font-weight="bold" text-anchor="middle">ZRe (Ω)</text>
<text transform="translate(903.75 974.7) scale(1 1.07) rotate(-90)" font-family='"Liberation Sans", sans-serif' font-size="31.3" font-weight="bold" text-anchor="middle">-ZIm (Ω)</text>
</g>
<g>
<text transform="translate(520.4 2254.8) scale(1 1.07)" font-family='"Liberation Sans", sans-serif' font-size="27.7" font-weight="bold" text-anchor="middle">1000</text>
<text transform="translate(715.75 2254.8) scale(1 1.07)" font-family='"Liberation Sans", sans-serif' font-size="27.7" font-weight="bold" text-anchor="middle">1500</text>
<text transform="translate(911.1 2254.8) scale(1 1.07)" font-family='"Liberation Sans", sans-serif' font-size="27.7" font-weight="bold" text-anchor="middle">2000</text>
<text transform="translate(1106.45 2254.8) scale(1 1.07)" font-family='"Liberation Sans", sans-serif' font-size="27.7" font-weight="bold" text-anchor="middle">2500</text>
<text transform="translate(1301.8 2254.8) scale(1 1.07)" font-family='"Liberation Sans", sans-serif' font-size="27.7" font-weight="bold" text-anchor="middle">3000</text>
<text transform="translate(400.9 2217.84) scale(1 1.07)" font-family='"Liberation Sans", sans-serif' font-size="27.4" font-weight="bold" text-anchor="end">-200</text>
<text transform="translate(400.9 2131.55) scale(1 1.07)" font-family='"Liberation Sans", sans-serif' font-size="27.4" font-weight="bold" text-anchor="end">0</text>
<text transform="translate(400.9 2045.26) scale(1 1.07)" font-family='"Liberation Sans", sans-serif' font-size="27.4" font-weight="bold" text-anchor="end">200</text>
<text transform="translate(400.9 1958.97) scale(1 1.07)" font-family='"Liberation Sans", sans-serif' font-size="27.4" font-weight="bold" text-anchor="end">400</text>
<text transform="translate(400.9 1872.69) scale(1 1.07)" font-family='"Liberation Sans", sans-serif' font-size="27.4" font-weight="bold" text-anchor="end">600</text>
<text transform="translate(400.9 1786.4) scale(1 1.07)" font-family='"Liberation Sans", sans-serif' font-size="27.4" font-weight="bold" text-anchor="end">800</text>
<text transform="translate(400.9 1700.11) scale(1 1.07)" font-family='"Liberation Sans", sans-serif' font-size="27.4" font-weight="bold" text-anchor="end">1000</text>
<text transform="translate(400.9 1613.83) scale(1 1.07)" font-family='"Liberation Sans", sans-serif' font-size="27.4" font-weight="bold" text-anchor="end">1200</text>
<text transform="translate(400.9 1527.54) scale(1 1.07)" font-family='"Liberation Sans", sans-serif' font-size="27.4" font-weight="bold" text-anchor="end">1400</text>
<text transform="translate(400.9 1441.25) scale(1 1.07)" font-family='"Liberation Sans", sans-serif' font-size="27.4" font-weight="bold" text-anchor="end">1600</text>
<clipPath id="clip5"><rect x="422.6" y="1432.2" width="977.1" height="776.6"/></clipPath>
<g clip-path="url(#clip5)">
<polyline points="562,2108 564.5,2104.05 568.35,2097.97 572.5,2091.43 576.95,2084.39 581.74,2076.83 586.89,2068.69 592.43,2059.95 598.39,2050.55 605.45,2040.89 613.28,2030.68 621.71,2019.7 630.76,2007.9 640.5,1995.2 658,1976.4 679.9,1956.3 706.7,1936.8 739.6,1921 775,1910.8 814.1,1906.8 851.6,1908.9 886.1,1918 914.5,1927.7 938.3,1938.4 958.4,1947 976.6,1952.9 987.9,1955 998.6,1947.8 1012,1936.8 1022.7,1916.7 1036.1,1888 1049.2,1853.2 1064.7,1811.7 1086.2,1756.8 1116.4,1690.7 1161.2,1609.6" fill="none" stroke="#454545" stroke-width="3.2" stroke-linejoin="round" stroke-linecap="round"/>
<g><rect x="553" y="2098.15" width="18" height="19.7" fill="#454545"/><rect x="555.5" y="2094.2" width="18" height="19.7" fill="#454545"/><rect x="559.35" y="2088.12" width="18" height="19.7" fill="#454545"/><rect x="563.5" y="2081.58" width="18" height="19.7" fill="#454545"/><rect x="567.95" y="2074.54" width="18" height="19.7" fill="#454545"/><rect x="572.74" y="2066.98" width="18" height="19.7" fill="#454545"/><rect x="577.89" y="2058.84" width="18" height="19.7" fill="#454545"/><rect x="583.43" y="2050.1" width="18" height="19.7" fill="#454545"/><rect x="589.39" y="2040.7" width="18" height="19.7" fill="#454545"/><rect x="596.45" y="2031.04" width="18" height="19.7" fill="#454545"/><rect x="604.28" y="2020.83" width="18" height="19.7" fill="#454545"/><rect x="612.71" y="2009.85" width="18" height="19.7" fill="#454545"/><rect x="621.76" y="1998.05" width="18" height="19.7" fill="#454545"/><rect x="631.5" y="1985.35" width="18" height="19.7" fill="#454545"/><rect x="649" y="1966.55" width="18" height="19.7" fill="#454545"/><rect x="670.9" y="1946.45" width="18" height="19.7" fill="#454545"/><rect x="697.7" y="1926.95" width="18" height="19.7" fill="#454545"/><rect x="730.6" y="1911.15" width="18" height="19.7" fill="#454545"/><rect x="766" y="1900.95" width="18" height="19.7" fill="#454545"/><rect x="805.1" y="1896.95" width="18" height="19.7" fill="#454545"/><rect x="842.6" y="1899.05" width="18" height="19.7" fill="#454545"/><rect x="877.1" y="1908.15" width="18" height="19.7" fill="#454545"/><rect x="905.5" y="1917.85" width="18" height="19.7" fill="#454545"/><rect x="929.3" y="1928.55" width="18" height="19.7" fill="#454545"/><rect x="949.4" y="1937.15" width="18" height="19.7" fill="#454545"/><rect x="967.6" y="1943.05" width="18" height="19.7" fill="#454545"/><rect x="978.9" y="1945.15" width="18" height="19.7" fill="#454545"/><rect x="989.6" y="1937.95" width="18" height="19.7" fill="#454545"/><rect x="1003" y="1926.95" width="18" height="19.7" fill="#454545"/><rect x="1013.7" y="1906.85" width="18" height="19.7" fill="#454545"/><rect x="1027.1" y="1878.15" width="18" height="19.7" fill="#454545"/><rect x="1040.2" y="1843.35" width="18" height="19.7" fill="#454545"/><rect x="1055.7" y="1801.85" width="18" height="19.7" fill="#454545"/><rect x="1077.2" y="1746.95" width="18" height="19.7" fill="#454545"/><rect x="1107.4" y="1680.85" width="18" height="19.7" fill="#454545"/><rect x="1152.2" y="1599.75" width="18" height="19.7" fill="#454545"/></g>
<polyline points="563,2115 564.7,2112.1 568.1,2106.32 571.74,2100.11 575.66,2093.44 579.88,2086.26 584.42,2078.54 589.29,2070.23 594.53,2061.31 600.19,2051.72 606.87,2041.79 614.05,2031.11 621.77,2019.63 630.07,2007.28 639,1994 655,1972 674,1948 700.3,1924.7 733.5,1898.2 772.3,1877.3 816.8,1863.1 864.2,1857.5 910.3,1859.6 951.7,1866.1 987.3,1876.8 1017.3,1889.9 1042,1896.1 1062.1,1901.4 1080.8,1897.4 1099,1888 1115.1,1869.3 1129.8,1845.2 1149.4,1806.9 1166,1758.7 1191.4,1698.8 1228.1,1624.3 1277.7,1536.7" fill="none" stroke="#f63338" stroke-width="3.2" stroke-linejoin="round" stroke-linecap="round"/>
<g><ellipse cx="563" cy="2115" rx="10.4" ry="11.3" fill="#f63338"/><ellipse cx="564.7" cy="2112.1" rx="10.4" ry="11.3" fill="#f63338"/><ellipse cx="568.1" cy="2106.32" rx="10.4" ry="11.3" fill="#f63338"/><ellipse cx="571.74" cy="2100.11" rx="10.4" ry="11.3" fill="#f63338"/><ellipse cx="575.66" cy="2093.44" rx="10.4" ry="11.3" fill="#f63338"/><ellipse cx="579.88" cy="2086.26" rx="10.4" ry="11.3" fill="#f63338"/><ellipse cx="584.42" cy="2078.54" rx="10.4" ry="11.3" fill="#f63338"/><ellipse cx="589.29" cy="2070.23" rx="10.4" ry="11.3" fill="#f63338"/><ellipse cx="594.53" cy="2061.31" rx="10.4" ry="11.3" fill="#f63338"/><ellipse cx="600.19" cy="2051.72" rx="10.4" ry="11.3" fill="#f63338"/><ellipse cx="606.87" cy="2041.79" rx="10.4" ry="11.3" fill="#f63338"/><ellipse cx="614.05" cy="2031.11" rx="10.4" ry="11.3" fill="#f63338"/><ellipse cx="621.77" cy="2019.63" rx="10.4" ry="11.3" fill="#f63338"/><ellipse cx="630.07" cy="2007.28" rx="10.4" ry="11.3" fill="#f63338"/><ellipse cx="639" cy="1994" rx="10.4" ry="11.3" fill="#f63338"/><ellipse cx="655" cy="1972" rx="10.4" ry="11.3" fill="#f63338"/><ellipse cx="674" cy="1948" rx="10.4" ry="11.3" fill="#f63338"/><ellipse cx="700.3" cy="1924.7" rx="10.4" ry="11.3" fill="#f63338"/><ellipse cx="733.5" cy="1898.2" rx="10.4" ry="11.3" fill="#f63338"/><ellipse cx="772.3" cy="1877.3" rx="10.4" ry="11.3" fill="#f63338"/><ellipse cx="816.8" cy="1863.1" rx="10.4" ry="11.3" fill="#f63338"/><ellipse cx="864.2" cy="1857.5" rx="10.4" ry="11.3" fill="#f63338"/><ellipse cx="910.3" cy="1859.6" rx="10.4" ry="11.3" fill="#f63338"/><ellipse cx="951.7" cy="1866.1" rx="10.4" ry="11.3" fill="#f63338"/><ellipse cx="987.3" cy="1876.8" rx="10.4" ry="11.3" fill="#f63338"/><ellipse cx="1017.3" cy="1889.9" rx="10.4" ry="11.3" fill="#f63338"/><ellipse cx="1042" cy="1896.1" rx="10.4" ry="11.3" fill="#f63338"/><ellipse cx="1062.1" cy="1901.4" rx="10.4" ry="11.3" fill="#f63338"/><ellipse cx="1080.8" cy="1897.4" rx="10.4" ry="11.3" fill="#f63338"/><ellipse cx="1099" cy="1888" rx="10.4" ry="11.3" fill="#f63338"/><ellipse cx="1115.1" cy="1869.3" rx="10.4" ry="11.3" fill="#f63338"/><ellipse cx="1129.8" cy="1845.2" rx="10.4" ry="11.3" fill="#f63338"/><ellipse cx="1149.4" cy="1806.9" rx="10.4" ry="11.3" fill="#f63338"/><ellipse cx="1166" cy="1758.7" rx="10.4" ry="11.3" fill="#f63338"/><ellipse cx="1191.4" cy="1698.8" rx="10.4" ry="11.3" fill="#f63338"/><ellipse cx="1228.1" cy="1624.3" rx="10.4" ry="11.3" fill="#f63338"/><ellipse cx="1277.7" cy="1536.7" rx="10.4" ry="11.3" fill="#f63338"/></g>
<polyline points="563.5,2118.5 566.78,2113.1 570.54,2106.89 574.59,2100.22 578.94,2093.04 583.62,2085.32 588.66,2077.02 594.07,2068.1 599.89,2058.51 606.46,2048.39 613.56,2037.53 621.19,2025.85 629,2013.4 641,1994.7 656.6,1973.3 675.3,1950.5 700,1923.2 732.9,1896.9 771.8,1870.9 816.5,1857.3 864.7,1847.4 912.3,1844.6 957.9,1851.2 997.8,1861 1029.4,1873 1058.3,1882.5 1080.8,1886 1100.4,1886.5 1117.5,1876.8 1137.6,1856.5 1152.3,1833 1170.9,1797.9 1188.9,1749.1 1214.9,1685.6 1253.05,1612.6 1304.75,1520.2" fill="none" stroke="#0f63e6" stroke-width="3.2" stroke-linejoin="round" stroke-linecap="round"/>
<g><polygon points="563.5,2102.83 551.1,2126.33 575.9,2126.33" fill="#0f63e6"/><polygon points="566.78,2097.43 554.38,2120.93 579.18,2120.93" fill="#0f63e6"/><polygon points="570.54,2091.22 558.14,2114.72 582.94,2114.72" fill="#0f63e6"/><polygon points="574.59,2084.55 562.19,2108.05 586.99,2108.05" fill="#0f63e6"/><polygon points="578.94,2077.37 566.54,2100.87 591.34,2100.87" fill="#0f63e6"/><polygon points="583.62,2069.66 571.22,2093.16 596.02,2093.16" fill="#0f63e6"/><polygon points="588.66,2061.36 576.26,2084.86 601.06,2084.86" fill="#0f63e6"/><polygon points="594.07,2052.44 581.67,2075.94 606.47,2075.94" fill="#0f63e6"/><polygon points="599.89,2042.84 587.49,2066.34 612.29,2066.34" fill="#0f63e6"/><polygon points="606.46,2032.72 594.06,2056.22 618.86,2056.22" fill="#0f63e6"/><polygon points="613.56,2021.86 601.16,2045.36 625.96,2045.36" fill="#0f63e6"/><polygon points="621.19,2010.19 608.79,2033.69 633.59,2033.69" fill="#0f63e6"/><polygon points="629,1997.73 616.6,2021.23 641.4,2021.23" fill="#0f63e6"/><polygon points="641,1979.03 628.6,2002.53 653.4,2002.53" fill="#0f63e6"/><polygon points="656.6,1957.63 644.2,1981.13 669,1981.13" fill="#0f63e6"/><polygon points="675.3,1934.83 662.9,1958.33 687.7,1958.33" fill="#0f63e6"/><polygon points="700,1907.53 687.6,1931.03 712.4,1931.03" fill="#0f63e6"/><polygon points="732.9,1881.23 720.5,1904.73 745.3,1904.73" fill="#0f63e6"/><polygon points="771.8,1855.23 759.4,1878.73 784.2,1878.73" fill="#0f63e6"/><polygon points="816.5,1841.63 804.1,1865.13 828.9,1865.13" fill="#0f63e6"/><polygon points="864.7,1831.73 852.3,1855.23 877.1,1855.23" fill="#0f63e6"/><polygon points="912.3,1828.93 899.9,1852.43 924.7,1852.43" fill="#0f63e6"/><polygon points="957.9,1835.53 945.5,1859.03 970.3,1859.03" fill="#0f63e6"/><polygon points="997.8,1845.33 985.4,1868.83 1010.2,1868.83" fill="#0f63e6"/><polygon points="1029.4,1857.33 1017,1880.83 1041.8,1880.83" fill="#0f63e6"/><polygon points="1058.3,1866.83 1045.9,1890.33 1070.7,1890.33" fill="#0f63e6"/><polygon points="1080.8,1870.33 1068.4,1893.83 1093.2,1893.83" fill="#0f63e6"/><polygon points="1100.4,1870.83 1088,1894.33 1112.8,1894.33" fill="#0f63e6"/><polygon points="1117.5,1861.13 1105.1,1884.63 1129.9,1884.63" fill="#0f63e6"/><polygon points="1137.6,1840.83 1125.2,1864.33 1150,1864.33" fill="#0f63e6"/><polygon points="1152.3,1817.33 1139.9,1840.83 1164.7,1840.83" fill="#0f63e6"/><polygon points="1170.9,1782.23 1158.5,1805.73 1183.3,1805.73" fill="#0f63e6"/><polygon points="1188.9,1733.43 1176.5,1756.93 1201.3,1756.93" fill="#0f63e6"/><polygon points="1214.9,1669.93 1202.5,1693.43 1227.3,1693.43" fill="#0f63e6"/><polygon points="1253.05,1596.93 1240.65,1620.43 1265.45,1620.43" fill="#0f63e6"/><polygon points="1304.75,1504.53 1292.35,1528.03 1317.15,1528.03" fill="#0f63e6"/></g>
<polyline points="564.6,2117.6 566.64,2114.17 570.35,2107.93 574.33,2101.21 578.62,2094 583.23,2086.24 588.18,2077.89 593.51,2068.92 599.24,2059.27 605.74,2049.11 612.79,2038.21 620.36,2026.5 628.5,2013.9 640.5,1995.2 656.1,1973.8 674.8,1951 699.5,1923.7 732.4,1897.4 771.3,1871.4 816,1857.8 864.2,1847.9 913,1846 957.1,1852 996.7,1860.7 1029.9,1873.3 1058.8,1882.7 1080.8,1887.5 1099.8,1886.7 1118.6,1876.8 1135.2,1857.2 1150.5,1827.8 1170.8,1793.8 1188.8,1747.4 1214.7,1684.9 1252.5,1609.9 1303.4,1519.6" fill="none" stroke="#2eb061" stroke-width="3.2" stroke-linejoin="round" stroke-linecap="round"/>
<g><polygon points="564.6,2133.27 552.2,2109.77 577,2109.77" fill="#2eb061"/><polygon points="566.64,2129.83 554.24,2106.33 579.04,2106.33" fill="#2eb061"/><polygon points="570.35,2123.59 557.95,2100.09 582.75,2100.09" fill="#2eb061"/><polygon points="574.33,2116.88 561.93,2093.38 586.73,2093.38" fill="#2eb061"/><polygon points="578.62,2109.66 566.22,2086.16 591.02,2086.16" fill="#2eb061"/><polygon points="583.23,2101.9 570.83,2078.4 595.63,2078.4" fill="#2eb061"/><polygon points="588.18,2093.56 575.78,2070.06 600.58,2070.06" fill="#2eb061"/><polygon points="593.51,2084.59 581.11,2061.09 605.91,2061.09" fill="#2eb061"/><polygon points="599.24,2074.94 586.84,2051.44 611.64,2051.44" fill="#2eb061"/><polygon points="605.74,2064.78 593.34,2041.28 618.14,2041.28" fill="#2eb061"/><polygon points="612.79,2053.88 600.39,2030.38 625.19,2030.38" fill="#2eb061"/><polygon points="620.36,2042.16 607.96,2018.66 632.76,2018.66" fill="#2eb061"/><polygon points="628.5,2029.57 616.1,2006.07 640.9,2006.07" fill="#2eb061"/><polygon points="640.5,2010.87 628.1,1987.37 652.9,1987.37" fill="#2eb061"/><polygon points="656.1,1989.47 643.7,1965.97 668.5,1965.97" fill="#2eb061"/><polygon points="674.8,1966.67 662.4,1943.17 687.2,1943.17" fill="#2eb061"/><polygon points="699.5,1939.37 687.1,1915.87 711.9,1915.87" fill="#2eb061"/><polygon points="732.4,1913.07 720,1889.57 744.8,1889.57" fill="#2eb061"/><polygon points="771.3,1887.07 758.9,1863.57 783.7,1863.57" fill="#2eb061"/><polygon points="816,1873.47 803.6,1849.97 828.4,1849.97" fill="#2eb061"/><polygon points="864.2,1863.57 851.8,1840.07 876.6,1840.07" fill="#2eb061"/><polygon points="913,1861.67 900.6,1838.17 925.4,1838.17" fill="#2eb061"/><polygon points="957.1,1867.67 944.7,1844.17 969.5,1844.17" fill="#2eb061"/><polygon points="996.7,1876.37 984.3,1852.87 1009.1,1852.87" fill="#2eb061"/><polygon points="1029.9,1888.97 1017.5,1865.47 1042.3,1865.47" fill="#2eb061"/><polygon points="1058.8,1898.37 1046.4,1874.87 1071.2,1874.87" fill="#2eb061"/><polygon points="1080.8,1903.17 1068.4,1879.67 1093.2,1879.67" fill="#2eb061"/><polygon points="1099.8,1902.37 1087.4,1878.87 1112.2,1878.87" fill="#2eb061"/><polygon points="1118.6,1892.47 1106.2,1868.97 1131,1868.97" fill="#2eb061"/><polygon points="1135.2,1872.87 1122.8,1849.37 1147.6,1849.37" fill="#2eb061"/><polygon points="1150.5,1843.47 1138.1,1819.97 1162.9,1819.97" fill="#2eb061"/><polygon points="1170.8,1809.47 1158.4,1785.97 1183.2,1785.97" fill="#2eb061"/><polygon points="1188.8,1763.07 1176.4,1739.57 1201.2,1739.57" fill="#2eb061"/><polygon points="1214.7,1700.57 1202.3,1677.07 1227.1,1677.07" fill="#2eb061"/><polygon points="1252.5,1625.57 1240.1,1602.07 1264.9,1602.07" fill="#2eb061"/><polygon points="1303.4,1535.27 1291,1511.77 1315.8,1511.77" fill="#2eb061"/></g>
</g>
<path d="M421 1432.2 H1401.3 M421 2208.8 H1401.3 M422.6 2208.79 h-13.2 M422.6 2122.5 h-13.2 M422.6 2036.21 h-13.2 M422.6 1949.92 h-13.2 M422.6 1863.64 h-13.2 M422.6 1777.35 h-13.2 M422.6 1691.06 h-13.2 M422.6 1604.78 h-13.2 M422.6 1518.49 h-13.2 M422.6 1432.2 h-13.2 M422.6 2165.64 h-6.8 M422.6 2079.36 h-6.8 M422.6 1993.07 h-6.8 M422.6 1906.78 h-6.8 M422.6 1820.49 h-6.8 M422.6 1734.21 h-6.8 M422.6 1647.92 h-6.8 M422.6 1561.63 h-6.8 M422.6 1475.34 h-6.8" stroke="#000" stroke-width="3.7" fill="none"/>
<path d="M422.6 1430.35 V2210.65 M1399.7 1430.35 V2210.65 M520.4 2208.8 v13.6 M715.75 2208.8 v13.6 M911.1 2208.8 v13.6 M1106.45 2208.8 v13.6 M1301.8 2208.8 v13.6 M422.72 2208.8 v7.2 M618.07 2208.8 v7.2 M813.42 2208.8 v7.2 M1008.77 2208.8 v7.2 M1204.12 2208.8 v7.2 M1399.47 2208.8 v7.2" stroke="#000" stroke-width="3.2" fill="none"/>
<line x1="461" y1="1468.3" x2="536" y2="1468.3" stroke="#454545" stroke-width="3.4" stroke-linecap="round"/>
<rect x="489.2" y="1458.45" width="18" height="19.7" fill="#454545"/>
<text transform="translate(544.4 1480.9) scale(1 1.05)" font-family='"Liberation Sans", sans-serif' font-size="34.3" font-weight="normal" text-anchor="start">0 min</text>
<line x1="461" y1="1512.9" x2="536" y2="1512.9" stroke="#f63338" stroke-width="3.4" stroke-linecap="round"/>
<ellipse cx="498.2" cy="1512.9" rx="10.4" ry="11.3" fill="#f63338"/>
<text transform="translate(544.4 1525.5) scale(1 1.05)" font-family='"Liberation Sans", sans-serif' font-size="34.3" font-weight="normal" text-anchor="start">5 min</text>
<line x1="461" y1="1557.6" x2="536" y2="1557.6" stroke="#0f63e6" stroke-width="3.4" stroke-linecap="round"/>
<polygon points="498.2,1541.93 485.8,1565.43 510.6,1565.43" fill="#0f63e6"/>
<text transform="translate(544.4 1570.2) scale(1 1.05)" font-family='"Liberation Sans", sans-serif' font-size="34.3" font-weight="normal" text-anchor="start">10 min</text>
<line x1="461" y1="1602.3" x2="536" y2="1602.3" stroke="#2eb061" stroke-width="3.4" stroke-linecap="round"/>
<polygon points="498.2,1617.97 485.8,1594.47 510.6,1594.47" fill="#2eb061"/>
<text transform="translate(544.4 1614.9) scale(1 1.05)" font-family='"Liberation Sans", sans-serif' font-size="34.3" font-weight="normal" text-anchor="start">20 min</text>
<text transform="translate(911.6 2312.7) scale(1 1.07)" font-family='"Liberation Sans", sans-serif' font-size="34.8" font-weight="normal" text-anchor="middle">Zre (Ω)</text>
<text transform="translate(325.5 1819.6) scale(1 1.07) rotate(-90)" font-family='"Liberation Sans", sans-serif' font-size="34" font-weight="normal" text-anchor="middle">Zim (Ω)</text>
</g>
<text transform="translate(2.7 37.5) scale(1 1.06)" font-family='"Liberation Serif", serif' font-size="48" font-weight="bold" text-anchor="start">A</text>
<text transform="translate(287.9 1443.2) scale(1 1.06)" font-family='"Liberation Serif", serif' font-size="48.6" font-weight="bold" text-anchor="start">B</text>
</svg>
</body>
</html>
